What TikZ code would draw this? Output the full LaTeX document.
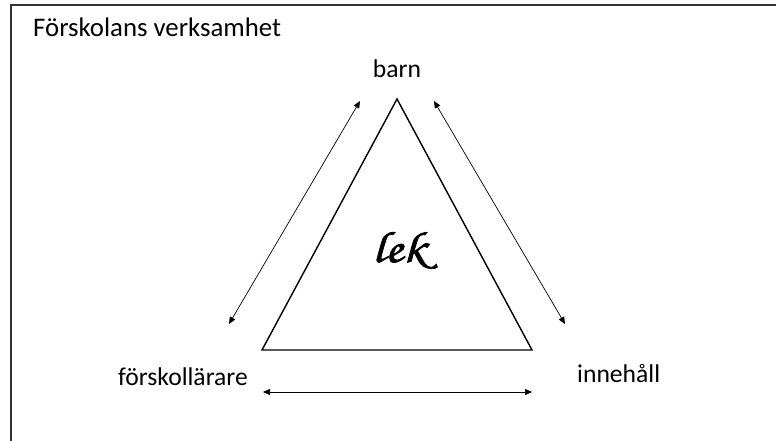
\documentclass[tikz,border=0pt]{standalone}
\usepackage{fontspec}
\setmainfont{Carlito}
\newfontfamily\scriptfam[FakeStretch=1.2,AutoFakeBold=1.6]{TeX Gyre Chorus}
\usetikzlibrary{arrows.meta}
\tikzset{
  lbl/.style={inner sep=0pt, font=\fontsize{25.6}{30}\selectfont},
  tri/.style={draw=black, line width=1.4pt, line join=miter},
  rel/.style={draw=black, line width=0.7pt, {Triangle[length=7pt,width=6pt]}-{Triangle[length=7pt,width=6pt]}},
  frame/.style={draw=black!80, line width=1.1pt}
}
\begin{document}
\begin{tikzpicture}[x=1pt,y=-1pt]
\useasboundingbox (0,0) rectangle (776,441);
\draw[frame] (11,441) -- (11,5) -- (776,5);
% labels
\node[lbl, anchor=base west, font=\fontsize{26.8}{30}\selectfont] (title) at (33,37) {Förskolans verksamhet};
\node[lbl, anchor=base] (barn) at (397,78) {barn};
\node[lbl, anchor=base west] (forsk) at (118,385) {förskollärare};
\node[lbl, anchor=base west] (inneh) at (577,382) {innehåll};
\node[inner sep=0pt, anchor=base west, font=\scriptfam\bfseries\fontsize{44}{50}\selectfont] (lek) at (372,262) {lek};
% triangle
\coordinate (A) at (397,99);
\coordinate (B) at (262,350);
\coordinate (C) at (532,350);
\draw[tri] (A) -- (B) -- (C) -- cycle;
% arrows
\coordinate (l1) at (360,101);
\coordinate (l2) at (229,324);
\coordinate (r1) at (434,101);
\coordinate (r2) at (565,324);
\coordinate (b1) at (263,392);
\coordinate (b2) at (532,392);
\draw[rel] (l1) -- (l2);
\draw[rel] (r1) -- (r2);
\draw[rel] (b1) -- (b2);
\end{tikzpicture}
\end{document}
